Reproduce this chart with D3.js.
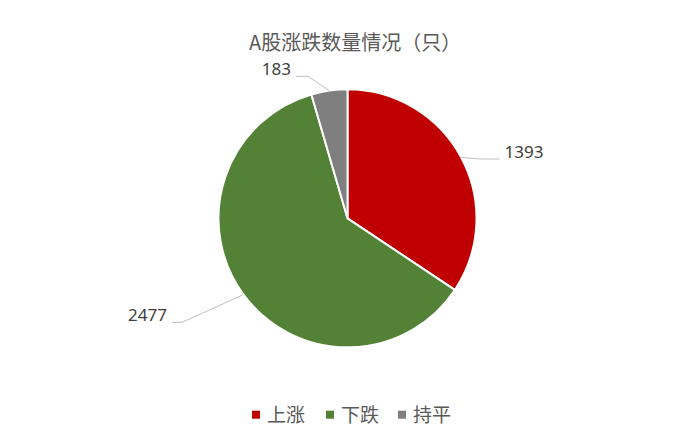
<!DOCTYPE html>
<html><head><meta charset="utf-8">
<script src="https://cdn.jsdelivr.net/npm/d3@7"></script>
<style>
html,body{margin:0;padding:0;background:#fff;}
svg{display:block;font-family:"Noto Sans CJK SC","Noto Sans",sans-serif;}
</style></head>
<body><svg id="c" width="693" height="441"></svg>
<script>
const title = "A股涨跌数量情况（只）";
const categories = ["上涨", "下跌", "持平"];
const values = [1393, 2477, 183];
const colors = ["#C00000", "#538135", "#7F7F7F"];

const W = 693, H = 441;
const cx = 347.5, cy = 218.3, R = 129;
const svg = d3.select("#c");

svg.append("text").attr("x", 249).attr("y", 50)
  .attr("text-anchor", "start").attr("fill", "#595959")
  .attr("font-size", 20).text(title);

const pie = d3.pie().sort(null).value(d => d.v);
const arcs = pie(categories.map((c, i) => ({c, v: values[i], col: colors[i]})));
const arc = d3.arc().innerRadius(0).outerRadius(R);

const g = svg.append("g").attr("transform", `translate(${cx},${cy})`);
g.selectAll("path.slice").data(arcs).join("path")
  .attr("class", "slice").attr("d", arc)
  .attr("fill", d => d.data.col).attr("stroke", "#fff").attr("stroke-width", 2)
  .attr("stroke-linejoin", "round");

// label layout: elbow and end offsets relative to chart centre
const layout = [
  {elbow: [130, -60], end: [152, -60], anchor: "start", tx: 157, ty: 0},
  {elbow: [-165.5, 104], end: [-175.5, 104], anchor: "end", tx: -181, ty: -1},
  {elbow: [-39.5, -142], end: [-51.5, -142], anchor: "end", tx: -55, ty: -1}
];
arcs.forEach((a, i) => {
  const mid = (a.startAngle + a.endAngle) / 2;
  const p0 = [R * Math.sin(mid), -R * Math.cos(mid)];
  const L = layout[i];
  const elbow = i === 0 ? [p0[0] + (L.end[0]-p0[0]) * 0.5, L.end[1]] : L.elbow;
  if (i === 0) { L.end[1] = p0[1] + 1.5; elbow[1] = p0[1] + 1.5; }
  g.append("polyline")
    .attr("points", [p0, elbow, L.end].map(p => p.join(",")).join(" "))
    .attr("fill", "none").attr("stroke", "#BFBFBF").attr("stroke-width", 1);
  g.append("text").attr("x", L.end[0] + (L.anchor === "start" ? 5 : -5))
    .attr("y", L.end[1] + (i === 0 ? -6 : L.ty))
    .attr("text-anchor", L.anchor).attr("dominant-baseline", i === 0 ? "middle" : "auto")
    .attr("fill", "#404040").attr("font-size", 17)
    .attr("font-family", "'Noto Sans','Open Sans',sans-serif")
    .text(d3.format("d")(values[i]));
});

const legendX = [252, 326, 398];
const lg = svg.append("g");
categories.forEach((c, i) => {
  lg.append("rect").attr("x", legendX[i]).attr("y", 410.7).attr("width", 8).attr("height", 8)
    .attr("fill", colors[i]);
  lg.append("text").attr("x", legendX[i] + 15).attr("y", 421.5)
    .attr("fill", "#595959").attr("font-size", 19).text(c);
});
</script></body></html>
